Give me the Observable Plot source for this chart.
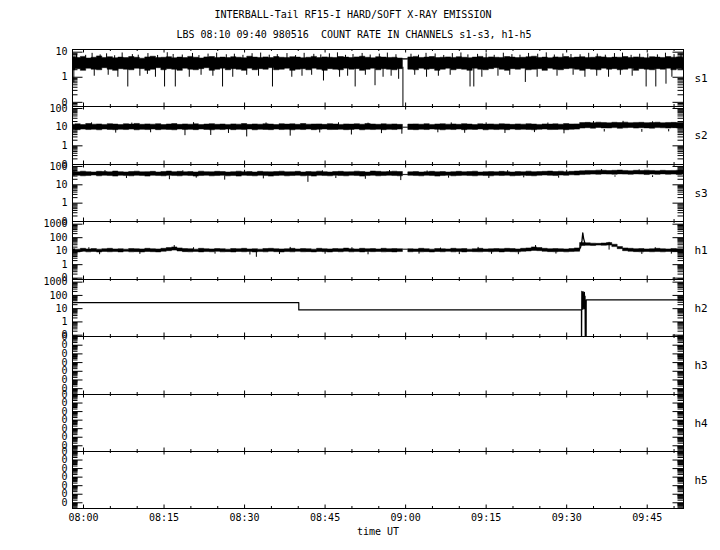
<!DOCTYPE html>
<html><head><meta charset="utf-8">
<script src="https://cdn.jsdelivr.net/npm/d3@7"></script>
<script src="https://cdn.jsdelivr.net/npm/@observablehq/plot@0.6"></script>
<style>
body{margin:0;background:#fff;}
#chart{position:relative;width:720px;height:550px;background:#fff;font-family:"DejaVu Sans Mono",monospace;color:#000;overflow:hidden;}
.t{position:absolute;font-size:10px;line-height:12px;white-space:pre;transform:translateX(-50%);}
#chart svg{position:absolute;left:0;}
</style></head><body><div id="chart"></div>
<script>
const titleText = "INTERBALL-Tail RF15-I HARD/SOFT X-RAY EMISSION";
const subtitleText = "LBS 08:10 09:40 980516  COUNT RATE IN CHANNELS s1-s3, h1-h5";
const xLabel = "time UT";
const channels = ["s1","s2","s3","h1","h2","h3","h4","h5"];
const xTickMinutes = [0,15,30,45,60,75,90,105];
const xTickLabels = ["08:00","08:15","08:30","08:45","09:00","09:15","09:30","09:45"];
const xMinorMinutes = [5,10,20,25,35,40,50,55,65,70,80,85,95,100,110];
const timeDomain = [-2.05, 111.76];
const yLogLow  = [-1.166, -1.0, -1.0, -1.1, -1.1, -7.67, -7.67, -7.67];
const yLogHigh = [1.107, 2.107, 2.107, 3.2, 3.2, -1, -1, -1];
const yTickValues = [
  [0.1,1,10],[0.1,1,10,100],[0.1,1,10,100],[0.1,1,10,100,1000],[0.1,1,10,100,1000],
  [1e-7,1e-6,1e-5,1e-4,1e-3,1e-2,1e-1],[1e-7,1e-6,1e-5,1e-4,1e-3,1e-2,1e-1],[1e-7,1e-6,1e-5,1e-4,1e-3,1e-2,1e-1]
];

// minutes after 08:00 of the band samples
const bandMinutes = [-2,-1,0,1,2,3,4,5,6,7,8,9,10,11,12,13,14,15,16,17,18,19,20,21,22,23,24,25,26,27,28,29,30,31,32,33,34,35,36,37,38,39,40,41,42,43,44,45,46,47,48,49,50,51,52,53,54,55,56,57,58,59,60,61,62,63,64,65,66,67,68,69,70,71,72,73,74,75,76,77,78,79,80,81,82,83,84,85,86,87,88,89,90,91,92,93,94,95,96,97,98,99,100,101,102,103,104,105,106,107,108,109,110,111,112];

const s1Hi = [6.2,5.8,6.5,5.6,6.0,6.8,5.9,6.3,5.7,6.1, 5.8,6.4,6.0,5.5,6.2,6.6,5.9,6.0,6.3,5.7, 6.1,5.8,6.5,6.0,5.6,6.2,6.4,5.9,6.1,5.8, 6.3,6.0,5.7,6.6,6.1,5.9,6.2,5.8,6.4,6.0, 5.9,6.3,6.1,5.7,6.0,6.5,5.8,6.2,6.0,5.9, 6.4,6.1,5.8,6.2,6.6,6.0,5.7,6.3,6.1,5.9, 6.0,5.6,5.3,6.2,6.5,5.9,6.1,6.4,5.8,6.0, 6.2,5.9,6.3,6.0,5.7,6.1,6.5,5.8,6.2,6.0, 5.9,6.4,6.1,5.8,6.0,6.3,6.6,5.9,6.1,5.7, 6.2,6.0,6.4,5.8,6.1,6.3,5.9,6.0,6.5,6.2, 5.8,6.1,6.0,6.4,5.9,6.2,6.0,5.7,6.3,6.1, 5.9,6.4,6.0,6.2,5.8];
const s1Lo = [1.9,2.1,1.8,2.2,2.0,1.9,2.3,2.0,1.8,2.1, 2.0,1.9,2.2,2.1,1.8,2.0,2.3,1.9,2.1,2.0, 1.8,2.2,2.0,1.9,2.1,2.3,1.8,2.0,2.2,1.9, 2.1,2.0,1.8,2.2,1.9,2.1,2.0,2.3,1.9,2.0, 2.2,1.8,2.0,2.1,1.9,2.2,2.0,1.8,2.1,2.0, 1.9,2.2,2.0,2.1,1.8,2.0,2.2,1.9,2.1,2.0, 1.9,2.1,5.0,2.0,1.9,2.2,2.0,2.1,1.8,2.0, 2.2,1.9,2.1,2.0,1.8,2.2,2.0,1.9,2.1,2.3, 2.0,1.8,2.1,2.0,2.2,1.9,2.0,2.1,1.8,2.2, 2.0,1.9,2.1,2.2,2.0,1.8,2.1,2.0,1.9,2.2, 2.0,2.1,1.9,2.0,2.2,1.8,2.1,2.0,1.9,2.1, 2.0,2.2,1.9,2.1,2.0];
const s1UpT = [-1.3,0.4,1.6,3.1,4.3,5.8,7.2,9.1,10.2,12.0,13.8,15.6,16.7,18.4,20.3,21.5,23.2,24.8,26.6,28.1,29.7,31.4,33.0,34.6,36.1,37.9,39.5,41.1,42.9,44.2,45.8,47.3,48.8,50.2,51.9,53.4,55.1,56.6,58.2,61.0,62.4,63.8,65.5,67.1,68.7,70.3,71.6,73.4,75.0,76.5,78.2,79.8,81.3,82.9,84.6,86.2,87.7,89.3,90.8,92.5,94.1,95.7,97.2,98.9,100.4,102.0,103.6,105.1,106.9,108.4,110.0,111.3];
const s1UpV = [8.2,7.5,9.0,7.8,8.6,7.2,9.3,8.0,7.6,8.8,7.4,9.5,8.1,7.7,8.9,7.3,8.4,9.1,7.9,8.3,7.5,8.7,9.2,7.6,8.0,8.8,7.3,9.0,8.2,7.8,8.6,9.4,7.5,8.1,8.9,7.7,8.4,9.2,7.9,8.3,7.6,9.0,8.5,7.4,8.8,9.3,7.8,8.2,8.7,7.5,9.1,8.0,7.6,8.9,8.3,9.4,7.7,8.5,8.1,7.9,9.0,8.4,7.6,8.8,9.2,7.5,8.3,8.6,7.8,9.1,8.0,8.5];
const s1DownT = [-1.8,2.0,4.6,6.4,8.25,10.5,11.9,13.4,15.1,17.1,19.7,21.9,24.1,25.9,27.8,30.4,32.6,35.2,38.8,40.7,42.5,44.7,47.7,49.2,50.6,52.5,54.3,55.8,57.3,58.7,59.5,61.7,63.9,66.1,68.3,72.0,72.7,74.2,77.2,79.4,82.3,84.5,88.2,91.2,93.4,95.6,97.8,100.0,102.2,104.8,106.6,108.5,109.6];
const s1DownV = [0.6,1.1,1.2,1.0,0.41,1.1,1.3,1.0,0.41,0.41,1.0,1.2,1.1,0.41,1.0,1.2,1.1,0.41,1.0,1.1,1.2,0.71,1.0,1.1,0.41,1.2,0.46,1.0,1.1,0.83,0.001,1.2,1.0,1.1,1.2,0.41,0.41,1.0,1.1,1.2,0.62,1.0,1.1,1.2,1.0,1.1,1.0,1.2,1.1,0.41,0.41,0.53,1.0];

const s2Hi = [13.5,14.2,13.0,14.8,13.6,14.0,13.2,14.5,13.8,13.1, 14.3,13.7,14.9,13.4,14.1,13.6,14.4,13.0,13.9,14.6, 13.3,14.0,13.5,14.2,13.1,13.8,14.5,13.4,13.9,13.2, 14.1,13.6,14.7,13.3,14.0,13.5,14.3,13.8,13.1,14.4, 13.7,14.2,13.4,14.8,13.6,13.9,14.1,13.3,14.5,13.8, 13.2,14.0,13.7,14.3,13.5,14.6,13.9,13.4,14.2,13.6, 14.0,13.3,9.6,13.8,14.1,13.5,14.4,13.2,13.9,14.3, 13.6,14.0,13.4,14.5,13.8,13.1,14.2,13.7,14.0,13.5, 14.3,13.9,13.3,14.1,13.6,14.4,13.8,13.2,14.0,13.7, 14.2,13.5,14.6,13.9,14.1,16.5,17.0,16.2,17.4,16.8, 16.0,17.2,16.6,17.5,16.3,16.9,17.1,16.4,16.7,17.3, 16.1,16.8,17.0,16.5,16.9];
const s2Lo = [7.2,6.9,7.4,7.0,7.3,6.8,7.5,7.1,6.9,7.3, 7.0,7.4,6.8,7.2,7.0,7.5,6.9,7.3,7.1,6.8, 7.4,7.0,7.2,6.9,7.5,7.1,6.8,7.3,7.0,7.4, 6.9,7.2,7.0,7.5,6.8,7.3,7.1,6.9,7.4,7.0, 7.2,6.8,7.3,7.0,7.4,6.9,7.2,7.5,7.0,7.1, 7.3,6.9,7.1,7.4,6.8,7.2,7.0,7.3,6.9,7.2, 7.0,7.4,9.2,7.1,6.9,7.3,7.0,7.5,7.2,6.8, 7.3,7.0,7.4,6.9,7.2,7.1,7.5,6.8,7.3,7.0, 7.2,6.9,7.4,7.0,7.3,7.1,6.8,7.2,7.5,7.0, 7.1,7.3,6.9,7.2,7.4,8.4,8.8,8.3,9.0,8.6, 8.5,8.9,8.2,8.7,9.0,8.4,8.8,8.6,8.3,8.9, 8.7,8.4,8.8,8.5,8.6];
const s2UpT = [1.5,9.0,20.5,34.0,47.5,53.0,68.5,75.0,86.5,95.0,100.5,106.0];
const s2UpV = [17,16.5,17.5,16.8,17.2,16.4,16.9,17.0,16.6,20,20.5,19.5];
const s2DownT = [6.0,12.5,18.9,23.7,27.0,30.4,38.5,44.0,49.9,55.5,59.3,66.0,71.0,78.5,84.0,89.5,97.0,104.0,109.0];
const s2DownV = [4.8,5.0,3.5,3.6,4.6,3.0,3.3,4.9,3.8,4.5,4.2,5.0,4.7,4.6,5.1,4.4,5.5,5.3,5.6];

const s3Hi = [50,48,52,49,47,51,50,48,53,49, 47,50,52,48,49,51,47,50,53,49, 51,48,50,47,52,49,48,51,50,47, 49,52,48,50,47,51,49,48,50,52, 48,49,51,47,50,48,52,49,47,50, 51,48,49,52,50,47,53,51,49,50, 52,50,34.8,48,50,47,49,51,48,50, 47,49,51,48,50,52,47,49,50,48, 51,49,47,50,48,52,49,50,51,53, 50,52,49,51,53,55,57,56,59,58, 56,58,60,57,55,58,56,59,57,55, 58,56,57,59,56];
const s3Lo = [30,31,29,30,32,29,31,30,28,31, 30,29,31,30,28,31,30,29,31,30, 29,31,30,28,30,31,29,30,31,29, 30,28,31,30,29,31,30,28,30,31, 29,30,31,29,30,28,31,30,29,31, 30,29,31,30,28,30,31,29,30,31, 30,29,33.6,31,30,29,31,30,28,30, 31,29,30,31,30,29,31,30,29,31, 30,31,29,30,31,30,29,31,32,31, 30,32,31,33,32,34,35,36,35,37, 36,35,37,36,35,37,36,34,36,35, 37,35,36,34,36];
const s3UpT = [4.0,18.5,30.0,44.5,57.0,64.0,79.0,90.0,96.5,103.5];
const s3UpV = [60,58,62,58,60,57,59,62,68,66];
const s3DownT = [8.0,16.0,21.0,26.3,33.5,41.8,47.0,52.5,59.1,68.0,75.5,82.0,88.5,99.0,106.0];
const s3DownV = [22,19,23,18,21,13.6,22,20,17,23,22,24,23,26,25];

const h1Hi = [14,13,15,13.5,14.5,13,14,15,13.5,14, 13,14.5,14,13.5,15,14,13.5,15,17,19, 16,14.5,14,13,15,14,13.5,14.5,14,13, 14.5,14,15,13.5,14,13,14.5,15,14,13.5, 14,15,13.5,14.5,14,13,15,14,13.5,14.5, 14,15.5,14,13.5,15,14,14.5,13.5,15,14, 14.5,14,13.2,14,13.5,15,14,13,14.5,14, 13.5,15,14,14.5,13,14,15,13.5,14,14.5, 14,15,14.5,13.5,15,16,19,17,15,14, 14.5,14,13.5,14.5,16,40,38,36,35,37, 40,30,20,16,15,14,14.5,13.5,14,15, 14,13.5,14.5,14,14];
const h1Lo = [8.5,8,9,8.2,8.7,8,8.8,8.3,8.6,8.1, 8.9,8.2,8.5,8,8.7,8.4,8.1,9,10,11, 9.5,8.5,8.2,8.8,8.1,8.6,8.3,8.9,8.2,8.5, 8,8.7,8.3,8.8,8.1,8.6,8.2,8.9,8.4,8, 8.6,8.2,8.9,8.3,8.5,8.1,8.8,8.4,8,8.7, 8.3,8.9,8.2,8.6,8.1,8.7,8.4,8.8,8.2,8.5, 8.1,8.6,12.6,8.3,8.8,8.2,8.5,8,8.7,8.3, 8.9,8.2,8.6,8.1,8.8,8.4,8.2,8.7,8.3,8.6, 8.1,8.8,8.4,8.2,8.9,9.5,10.5,10,9,8.5, 8.3,8.7,8.2,8.6,9,24,25,24,26,25, 26,20,14,10,9,8.5,8.2,8.7,8.3,8.6, 8.2,8.8,8.4,8.5,8.3];
const h1UpT = [1.0,16.9,20.5,38.5,50.0,66.5,73.5,84.2,97.9,106.5];
const h1UpV = [18,26,18,19,18,17,19,26,45,18];
const h1DownT = [3.0,10.5,24.5,31.0,32.2,36.5,45.0,53.0,62.5,70.0,76.0,81.0,88.0,104.0,109.5];
const h1DownV = [5.5,5.8,6.0,5.2,3.5,5.7,5.9,5.4,6.0,5.6,5.8,5.5,6.1,5.7,6.0];
const h1PeakT = [92.3,92.6,92.85,93.0,93.15,93.4];
const h1PeakV = [12,20,60,230,90,38];

const h2T = [-2.05,40.1,40.1,92.75,92.76,92.82,92.88,92.94,93.0,93.06,93.12,93.18,93.24,93.3,93.36,93.42,93.48,93.5,93.62,93.64,111.76];
const h2V = [28.6,28.6,8.1,8.1,0.001,200,12,160,9,190,15,120,10,170,20,90,0.001,0.001,0.001,46,46];

// ---------- layout ----------
const B = [49,106,164,221,279,336,394,451,508];
const ML = 72, MR = 37, FW = 720 - ML - MR;
const chart = document.getElementById("chart");

function addText(txt, x, y) {
  const d = document.createElement("div");
  d.className = "t"; d.textContent = txt;
  d.style.left = x + "px"; d.style.top = y + "px";
  chart.appendChild(d);
}
addText(titleText, 353, 9);
addText(subtitleText, 354, 29);
addText(xLabel, 378, 526);

const band = (hi, lo) => bandMinutes.map((t, i) => ({t, hi: hi[i], lo: lo[i]}));
const spikes = (T, V, b) => T.map((t, i) => ({t, v: V[i], b}));
const pts = (T, V) => T.map((t, i) => ({t, v: V[i]}));
const bandOpts = {x: "t", y1: "lo", y2: "hi", curve: "step", fill: "black", stroke: "black", strokeWidth: 0.5, clip: true};
const spikeOpts = {x: "t", y1: "b", y2: "v", stroke: "black", clip: true};

const dataMarks = [
  [
    Plot.areaY(band(s1Hi, s1Lo), bandOpts),
    Plot.ruleX(spikes(s1UpT, s1UpV, 5), spikeOpts),
    Plot.ruleX(spikes(s1DownT, s1DownV, 2.5), spikeOpts)
  ],
  [
    Plot.areaY(band(s2Hi, s2Lo), bandOpts),
    Plot.ruleX(spikes(s2UpT, s2UpV, 12), spikeOpts),
    Plot.ruleX(spikes(s2DownT, s2DownV, 7.5), spikeOpts)
  ],
  [
    Plot.areaY(band(s3Hi, s3Lo), bandOpts),
    Plot.ruleX(spikes(s3UpT, s3UpV, 45), spikeOpts),
    Plot.ruleX(spikes(s3DownT, s3DownV, 31), spikeOpts)
  ],
  [
    Plot.areaY(band(h1Hi, h1Lo), bandOpts),
    Plot.ruleX(spikes(h1UpT, h1UpV, 12), spikeOpts),
    Plot.ruleX(spikes(h1DownT, h1DownV, 9), spikeOpts),
    Plot.line(pts(h1PeakT, h1PeakV), {x: "t", y: "v", stroke: "black", strokeWidth: 1.3, clip: true})
  ],
  [
    Plot.line(pts(h2T, h2V), {x: "t", y: "v", stroke: "black", strokeWidth: 1.2, clip: true})
  ],
  [], [], []
];

channels.forEach((name, i) => {
  const top = B[i], ph = B[i + 1] - B[i];
  const last = i === channels.length - 1;
  const padT = 14, padB = last ? 34 : 14;
  const lo = yLogLow[i], hi = yLogHigh[i];
  const dMin = Math.pow(10, lo), dMax = Math.pow(10, hi);
  const majors = yTickValues[i];
  const minors = [];
  for (let e = Math.floor(lo); e <= Math.ceil(hi); e++) {
    for (let k = 2; k <= 9; k++) {
      const m = k * Math.pow(10, e);
      if (m >= dMin && m <= dMax) minors.push(m);
    }
  }
  const marks = [
    ...dataMarks[i],
    Plot.ruleY(minors, {insetRight: FW - 5.5, stroke: "black"}),
    Plot.ruleY(minors, {insetLeft: FW - 5.5, stroke: "black"}),
    Plot.ruleY(majors, {insetRight: FW - 10.5, stroke: "black"}),
    Plot.ruleY(majors, {insetLeft: FW - 10.5, stroke: "black"}),
    Plot.ruleX(xTickMinutes, {insetBottom: ph - 3.5, stroke: "black"}),
    Plot.ruleX(xTickMinutes, {insetTop: ph - 3.5, stroke: "black"}),
    Plot.ruleX(xMinorMinutes, {insetBottom: ph - 2, stroke: "black"}),
    Plot.ruleX(xMinorMinutes, {insetTop: ph - 2, stroke: "black"}),
    Plot.axisY({ticks: majors, tickFormat: d => d >= 1 ? String(d) : "0", tickSize: 0, tickPadding: 5, fill: "black", label: null}),
    Plot.text([name], {frameAnchor: "right", dx: 11, textAnchor: "start", fontSize: 11, fill: "black"}),
    Plot.frame({stroke: "black"})
  ];
  if (last) {
    marks.push(Plot.axisX({ticks: xTickMinutes, tickFormat: d => xTickLabels[xTickMinutes.indexOf(d)], tickSize: 0, tickPadding: 5, anchor: "bottom", fill: "black", label: null}));
  }
  const svg = Plot.plot({
    width: 720, height: ph + padT + padB,
    marginLeft: ML, marginRight: MR, marginTop: padT, marginBottom: padB,
    style: {background: "transparent", overflow: "visible", fontFamily: "'DejaVu Sans Mono', monospace", fontSize: "10px", color: "black"},
    x: {domain: timeDomain, axis: null, label: null},
    y: {type: "log", domain: [dMin, dMax], axis: null, label: null},
    marks
  });
  svg.style.top = (top - padT) + "px";
  chart.appendChild(svg);
});
</script></body></html>
